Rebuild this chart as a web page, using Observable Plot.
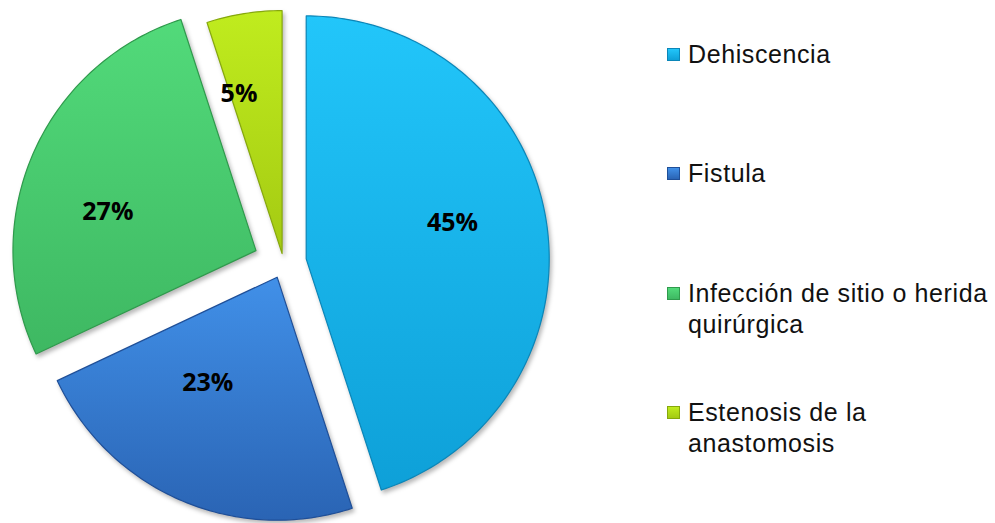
<!DOCTYPE html>
<html><head><meta charset="utf-8">
<script src="https://cdn.jsdelivr.net/npm/d3@7"></script>
<script src="https://cdn.jsdelivr.net/npm/@observablehq/plot@0.6"></script>
<style>
html,body{margin:0;padding:0;background:#fff;}
#wrap{position:relative;width:995px;height:523px;overflow:hidden;}
#chart{position:absolute;left:0;top:0;}
#legend{position:absolute;left:667px;top:38.5px;font-family:"Liberation Sans",Arial,sans-serif;font-size:25px;letter-spacing:0.6px;color:#111;}
.item{display:flex;align-items:flex-start;height:119.5px;}
.sw{width:13px;height:13px;margin-top:9px;margin-right:8px;flex:none;box-sizing:border-box;border:1px solid;}
.lab{width:305px;line-height:31px;}
#chart g[aria-label="line"] path{filter:drop-shadow(2px 3px 2px rgba(0,0,0,0.28));}
</style></head>
<body><div id="wrap"><div id="chart"></div><div id="legend"></div></div>
<script>
// ---- data ----
const categories = ["Dehiscencia", "Fistula", "Infección de sitio o herida quirúrgica", "Estenosis de la anastomosis"];
const values = [45, 23, 27, 5];
const valueLabels = ["45%", "23%", "27%", "5%"];

// ---- style ----
const topColors = ["#22c6fa", "#4190e8", "#52da7a", "#c0ec1e"];
const bottomColors = ["#0ea0d8", "#2a64b4", "#3eb862", "#a4ca12"];
const edgeColors = ["#0b86b8", "#1f4f98", "#2f9a4c", "#86a80c"];
const CX = 283, CY = 262, R = 243;
const explode = [23, 16, 30, 9];
const labelFrac = [0.62, 0.52, 0.63, 0.68];   // radial position of label (fraction of radius)
const labelTurn = [0.47, 0.62, 0.41, 0.16];   // angular position of label within the slice

const arcs = d3.pie().sort(null).value(d => d)(values);
const slices = arcs.map((a, i) => {
  const mid = (a.startAngle + a.endAngle) / 2;
  const ox = CX + explode[i] * Math.sin(mid), oy = CY - explode[i] * Math.cos(mid);
  const pts = [{x: ox, y: oy}];
  const n = Math.max(2, Math.ceil((a.endAngle - a.startAngle) / (Math.PI / 180)));
  for (let k = 0; k <= n; k++) {
    const t = a.startAngle + (a.endAngle - a.startAngle) * k / n;
    pts.push({x: ox + R * Math.sin(t), y: oy - R * Math.cos(t)});
  }
  const la = a.startAngle + (a.endAngle - a.startAngle) * labelTurn[i];
  return {i, pts, lx: ox + labelFrac[i] * R * Math.sin(la), ly: oy - labelFrac[i] * R * Math.cos(la), label: valueLabels[i]};
});

const svg = Plot.plot({
  width: 640, height: 523, margin: 0,
  x: {domain: [0, 640], range: [0, 640], axis: null},
  y: {domain: [0, 523], range: [0, 523], axis: null},
  marks: [
    ...slices.map(s => Plot.line(s.pts, {x: "x", y: "y", curve: "linear-closed", fill: `url(#grad${s.i})`, stroke: edgeColors[s.i], strokeWidth: 1.2})),
    Plot.text(slices, {x: "lx", y: "ly", text: "label", fontSize: 25, fontWeight: "bold", fontFamily: "Open Sans, Liberation Sans, sans-serif", fill: "#000"})
  ]
});
const defs = d3.select(svg).insert("defs", ":first-child");
topColors.forEach((c, i) => {
  const g = defs.append("linearGradient").attr("id", "grad" + i).attr("x1", 0).attr("y1", 0).attr("x2", 0).attr("y2", 1);
  g.append("stop").attr("offset", "0%").attr("stop-color", c);
  g.append("stop").attr("offset", "100%").attr("stop-color", bottomColors[i]);
});
document.getElementById("chart").appendChild(svg);

const legend = document.getElementById("legend");
categories.forEach((c, i) => {
  const item = document.createElement("div"); item.className = "item";
  const sw = document.createElement("div"); sw.className = "sw";
  sw.style.background = `linear-gradient(${topColors[i]}, ${bottomColors[i]})`;
  sw.style.borderColor = edgeColors[i];
  const lab = document.createElement("div"); lab.className = "lab"; lab.textContent = c;
  item.appendChild(sw); item.appendChild(lab); legend.appendChild(item);
});
</script>
</body></html>
